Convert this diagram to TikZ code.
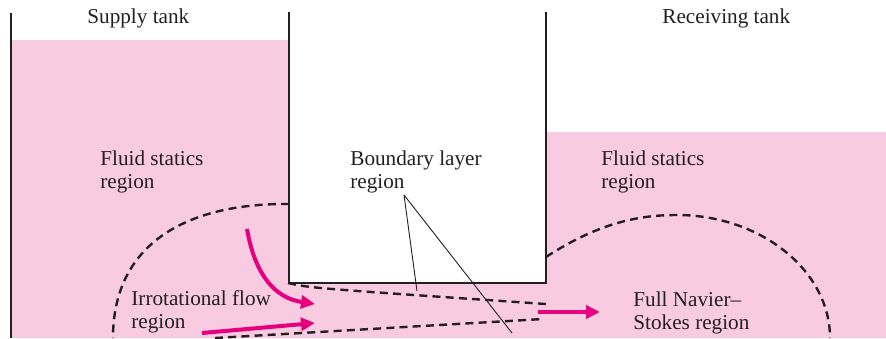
\documentclass[tikz,border=0pt]{standalone}
\usepackage{fontspec}
\setmainfont{Liberation Serif}
\usetikzlibrary{arrows.meta}

\definecolor{fluidpink}{RGB}{248,203,224}
\definecolor{flowmag}{RGB}{230,0,126}
\definecolor{inkblack}{RGB}{35,31,32}

\tikzset{
  lbl/.style={anchor=base west, align=left, inner sep=0pt, text=inkblack,
              font=\fontsize{10.6}{11.5}\selectfont},
  wall/.style={draw=inkblack, line width=1.2pt},
  zone/.style={draw=inkblack, line width=1.2pt, dash pattern=on 4pt off 2.6pt},
  flow/.style={draw=flowmag, line width=2pt, -{Triangle[length=7pt,width=6.5pt]}},
  leader/.style={draw=inkblack, line width=0.45pt}
}

\begin{document}
\begin{tikzpicture}[x=0.5pt, y=-0.5pt]

            \useasboundingbox (0,0) rectangle (886,338);

            % fluid in both tanks and under the plate
            \fill[fluidpink] (11,40) -- (289,40) -- (289,283) -- (546,283) -- (546,132)
                -- (886,132) -- (886,338) -- (11,338) -- cycle;

            % tank wall and plate
            \draw[wall] (11,13) -- (11,338);
            \draw[wall] (289,12) -- (289,283) -- (546,283) -- (546,12);

            % region borders
            \coordinate (lc0) at (289,204);
            \coordinate (lc1) at (113,338);
            \coordinate (rc0) at (546,257);
            \coordinate (rctop) at (677,215);
            \coordinate (rc1) at (830,338);
            \coordinate (bl0) at (288,283);
            \coordinate (bl1) at (546,304);
            \coordinate (bl2) at (215,338);
            \coordinate (bl3) at (543,319);
            \draw[zone] (lc0) .. controls (195,203) and (113,238) .. (lc1);
            \draw[zone] (rc0) .. controls (600,222) and (640,215) .. (rctop)
                .. controls (760,215) and (830,270) .. (rc1);
            \draw[zone] (bl0) .. controls (310,288) .. (bl1);
            \draw[zone] (bl2) -- (bl3);

            % labels (base = last line)
            \node[lbl] (supply) at (87,23) {Supply tank};
            \node[lbl] (recv) at (662,23) {Receiving tank};
            \node[lbl] (statL) at (100,188) {Fluid statics\\region};
            \node[lbl] (statR) at (601,188) {Fluid statics\\region};
            \node[lbl] (blayer) at (350,188) {Boundary layer\\region};
            \node[lbl] (irrot) at (131,328) {Irrotational flow\\region};
            \node[lbl] (navier) at (633,329) {Full Navier--\\Stokes region};

            % leaders to the boundary layers
            \coordinate (bltip) at (404,195);
            \coordinate (blup) at (417,291);
            \coordinate (bllow) at (512,333);
            \draw[leader] (bltip) -- (blup);
            \draw[leader] (bltip) -- (bllow);

            % flow arrows
            \coordinate (f1a) at (247,229);
            \coordinate (f1b) at (315,304);
            \coordinate (f2a) at (202,333);
            \coordinate (f2b) at (315,323);
            \coordinate (f3a) at (538,312);
            \coordinate (f3b) at (600,312);
            \draw[flow] (f1a) .. controls (255,275) and (275,298) .. (f1b);
            \draw[flow] (f2a) -- (f2b);
            \draw[flow] (f3a) -- (f3b);

\end{tikzpicture}
\end{document}
